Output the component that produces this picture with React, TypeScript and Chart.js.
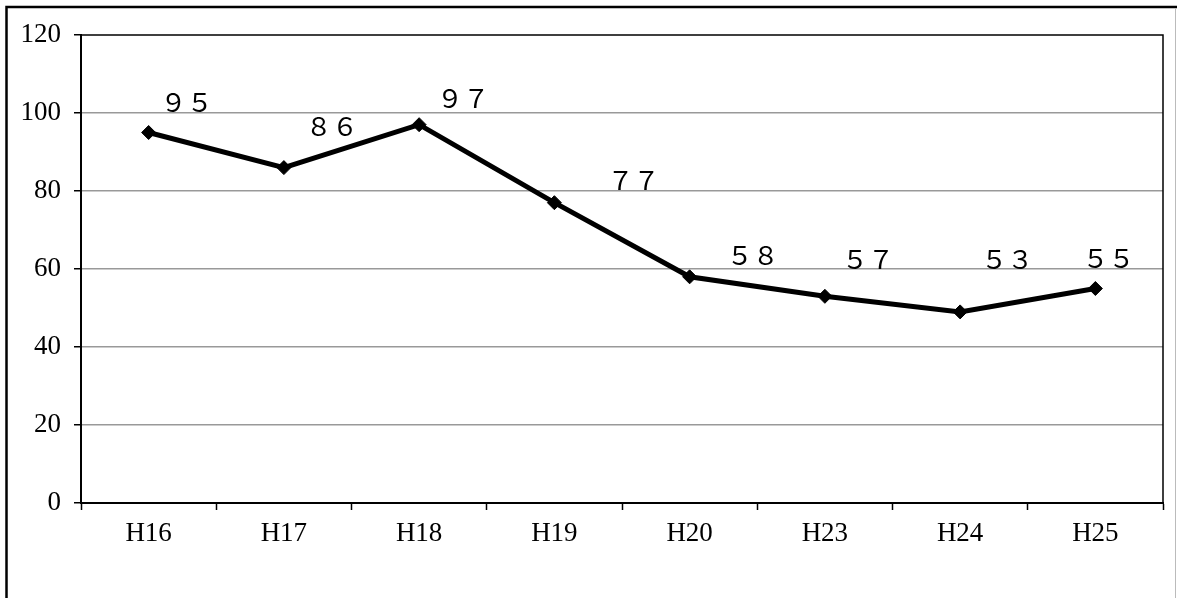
import React, { useEffect, useRef } from "react";
import { Chart, registerables } from "chart.js";

Chart.register(...registerables);

const categories = ["H16", "H17", "H18", "H19", "H20", "H23", "H24", "H25"];
const values = [95, 86, 97, 77, 58, 53, 49, 55];
const labelTexts = ["９５", "８６", "９７", "７７", "５８", "５７", "５３", "５５"];
const yTicks = [0, 20, 40, 60, 80, 100, 120];

// label placement (style): pixel offset from each point
const labelOffsets: [number, number][] = [
  [38, -27],
  [48, -38],
  [44, -24],
  [79, -20],
  [63, -19],
  [43, -34],
  [47, -50],
  [13, -27],
];

const FONT = "'Liberation Serif', 'Times New Roman', serif";
const LABEL_FONT = "'Liberation Serif', 'Noto Sans CJK JP', serif";

const framePlugin = {
  id: "frame",
  beforeDraw(chart: any) {
    const { ctx, width, height } = chart;
    ctx.save();
    ctx.fillStyle = "#ffffff";
    ctx.fillRect(0, 0, width, height);
    ctx.strokeStyle = "#000000";
    ctx.lineWidth = 2.5;
    ctx.beginPath();
    ctx.moveTo(6.5, height);
    ctx.lineTo(6.5, 7);
    ctx.lineTo(width, 7);
    ctx.stroke();
    ctx.strokeStyle = "#bbbbbb";
    ctx.lineWidth = 1;
    ctx.beginPath();
    ctx.moveTo(width - 1.5, 8);
    ctx.lineTo(width - 1.5, height);
    ctx.stroke();
    ctx.restore();
  },
  afterDraw(chart: any) {
    const { ctx, chartArea } = chart;
    ctx.save();
    ctx.strokeStyle = "#000000";
    ctx.lineWidth = 1.5;
    ctx.beginPath();
    ctx.moveTo(chartArea.left, chartArea.top);
    ctx.lineTo(chartArea.right, chartArea.top);
    ctx.lineTo(chartArea.right, chartArea.bottom);
    ctx.stroke();
    ctx.restore();
  },
};

const labelPlugin = {
  id: "pointLabels",
  afterDatasetsDraw(chart: any) {
    const meta = chart.getDatasetMeta(0);
    const { ctx } = chart;
    ctx.save();
    ctx.font = `26px ${LABEL_FONT}`;
    ctx.fillStyle = "#000000";
    ctx.textAlign = "center";
    ctx.textBaseline = "middle";
    meta.data.forEach((pt: any, i: number) => {
      const [dx, dy] = labelOffsets[i];
      ctx.fillText(labelTexts[i], pt.x + dx, pt.y + dy);
    });
    ctx.restore();
  },
};

export default function App() {
  const ref = useRef<HTMLCanvasElement>(null);

  useEffect(() => {
    if (!ref.current) return;
    const chart = new Chart(ref.current, {
      type: "line",
      data: {
        labels: categories,
        datasets: [
          {
            data: values,
            borderColor: "#000000",
            backgroundColor: "#000000",
            borderWidth: 5,
            pointStyle: "rectRot",
            pointRadius: 7,
            pointBorderWidth: 1,
            pointBackgroundColor: "#000000",
            pointBorderColor: "#000000",
            tension: 0,
          },
        ],
      },
      options: {
        animation: false,
        responsive: false,
        devicePixelRatio: 1,
        layout: { padding: { top: 35, right: 14, left: 0, bottom: 0 } },
        plugins: {
          legend: { display: false },
          tooltip: { enabled: false },
          title: { display: false },
        },
        scales: {
          x: {
            type: "category",
            offset: true,
            grid: {
              offset: true,
              drawOnChartArea: false,
              drawTicks: true,
              tickLength: 7,
              tickColor: "#000000",
              tickWidth: 1.5,
            },
            border: { display: true, color: "#000000", width: 2 },
            ticks: {
              color: "#000000",
              font: { family: FONT, size: 27 },
              padding: 8,
              maxRotation: 0,
              autoSkip: false,
            },
            afterFit(scale: any) {
              scale.height = 95;
            },
          },
          y: {
            min: 0,
            max: 120,
            afterBuildTicks(scale: any) {
              scale.ticks = yTicks.map((v) => ({ value: v }));
            },
            grid: {
              color: (ctx: any) => (ctx.tick && ctx.tick.value === 120 ? "rgba(0,0,0,0)" : "#999999"),
              lineWidth: 1.5,
              tickLength: 7,
              tickColor: "#000000",
              tickWidth: 1.5,
            },
            border: { display: true, color: "#000000", width: 2 },
            ticks: {
              color: "#000000",
              font: { family: FONT, size: 27 },
              padding: 13,
            },
            afterFit(scale: any) {
              scale.width = 81;
            },
          },
        },
      },
      plugins: [framePlugin, labelPlugin],
    });
    return () => chart.destroy();
  }, []);

  return (
    <div style={{ position: "fixed", left: 0, top: 0, width: 1177, height: 598 }}>
      <canvas ref={ref} width={1177} height={598} style={{ display: "block", width: 1177, height: 598 }} />
    </div>
  );
}
